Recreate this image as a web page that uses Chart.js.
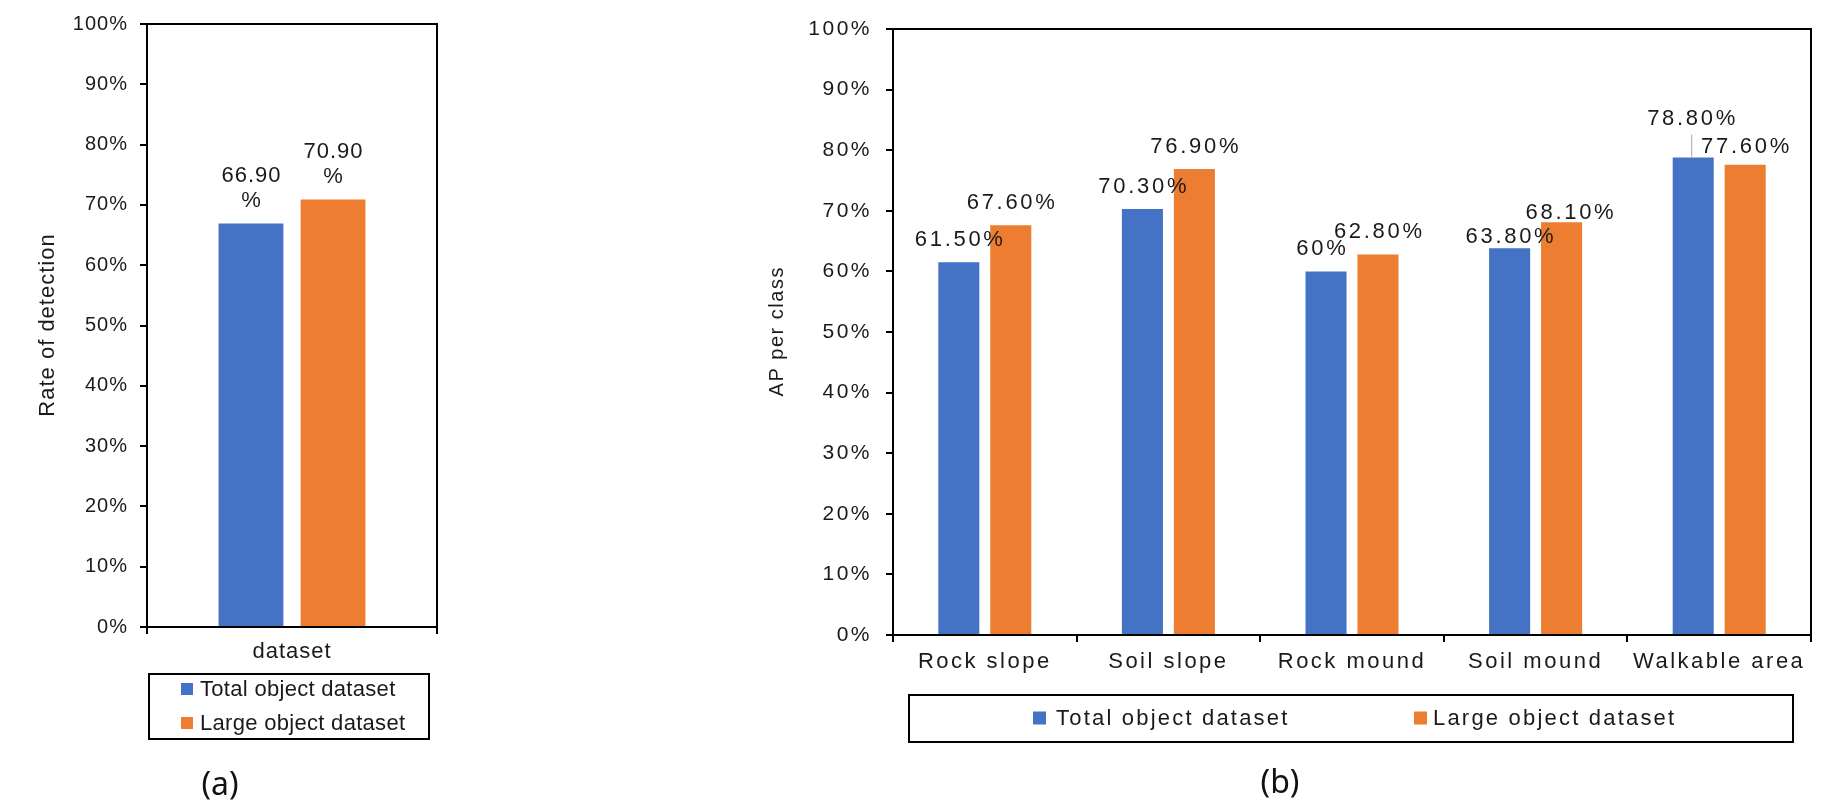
<!DOCTYPE html>
<html>
<head>
<meta charset="utf-8">
<script src="https://cdn.jsdelivr.net/npm/chart.js@4.4.1/dist/chart.umd.min.js"></script>
<style>
  html, body { margin: 0; padding: 0; background: #fff; }
  body { width: 1842px; height: 806px; position: relative; overflow: hidden; }
  canvas { position: absolute; top: 0; }
  #chartA { left: 0; }
  #chartB { left: 700px; }
  .cap { position: absolute; font-family: "Noto Sans", sans-serif; font-size: 32px; color: #111;
         transform: translate(-50%, -50%); line-height: 1; }
</style>
</head>
<body>
<canvas id="chartA" width="470" height="806"></canvas>
<canvas id="chartB" width="1142" height="806"></canvas>
<div class="cap" style="left:220px;top:783px">(a)</div>
<div class="cap" style="left:1280px;top:781px">(b)</div>

<script>
// ── data ──────────────────────────────────────────────
const seriesNames = ['Total object dataset', 'Large object dataset'];
const seriesColors = ['#4472C4', '#ED7D31'];

const catsA = ['dataset'];
const totalA = [66.9];
const largeA = [70.9];

const catsB = ['Rock slope', 'Soil slope', 'Rock mound', 'Soil mound', 'Walkable area'];
const totalB = [61.5, 70.3, 60, 63.8, 78.8];
const largeB = [67.6, 76.9, 62.8, 68.1, 77.6];

const yMin = 0, yMax = 100, yStep = 10;

// ── helpers / plugins ─────────────────────────────────
const FONT = "'Liberation Sans', Arial, sans-serif";
const TXT = '#1a1a1a';

const pct = v => (Number.isInteger(v) ? v : v.toFixed(2)) + '%';

// canvas letter spacing (the reference text is wide); reset after each resize
const spacing = {
  id: 'spacing',
  beforeLayout(c, a, o) { c.ctx.letterSpacing = o.px + 'px'; },
  beforeDraw(c, a, o) { c.ctx.letterSpacing = o.px + 'px'; }
};

// closed frame round the plot area
const frame = {
  id: 'frame',
  afterDraw(c) {
    const a = c.chartArea, ctx = c.ctx;
    ctx.save();
    ctx.strokeStyle = '#000'; ctx.lineWidth = 2;
    ctx.strokeRect(a.left, a.top, a.right - a.left, a.bottom - a.top);
    ctx.restore();
  }
};

// rotated y-axis title, own letter spacing
const vTitle = {
  id: 'vTitle',
  afterDraw(c, a, o) {
    const ar = c.chartArea, ctx = c.ctx;
    ctx.save();
    ctx.translate(o.x, (ar.top + ar.bottom) / 2);
    ctx.rotate(-Math.PI / 2);
    ctx.font = o.size + 'px ' + FONT;
    ctx.letterSpacing = o.px + 'px';
    ctx.textAlign = 'center';
    ctx.textBaseline = 'middle';
    ctx.fillStyle = TXT;
    ctx.fillText(o.text, o.px / 2, 0);
    ctx.restore();
  }
};

// value labels above each bar
const barLabels = {
  id: 'barLabels',
  afterDatasetsDraw(c, a, o) {
    const ctx = c.ctx;
    ctx.save();
    ctx.font = o.size + 'px ' + FONT;
    ctx.fillStyle = TXT;
    ctx.textAlign = 'center';
    ctx.textBaseline = 'middle';
    ctx.letterSpacing = o.px + 'px';
    c.data.datasets.forEach((ds, di) => {
      c.getDatasetMeta(di).data.forEach((bar, i) => {
        const n = (o.nudge && o.nudge[di][i]) || [0, 0];
        const x = bar.x + n[0] + o.px / 2;
        const y = bar.y - o.gap + n[1];
        const txt = pct(ds.data[i]);
        const lines = o.wrap ? [txt.slice(0, -1), '%'] : [txt];
        lines.forEach((t, k) => ctx.fillText(t, x, y - (lines.length - 1 - k) * o.lineH));
        if (n[1] < -10) {
          ctx.strokeStyle = '#a6a6a6'; ctx.lineWidth = 1;
          ctx.beginPath();
          ctx.moveTo(bar.x - 1.5, y + 16);
          ctx.lineTo(bar.x - 1.5, bar.y);
          ctx.stroke();
        }
      });
    });
    ctx.restore();
  }
};

// boxed legend like the Excel one
const boxLegend = {
  id: 'boxLegend',
  afterDraw(c, a, o) {
    const ctx = c.ctx, b = o.box;
    ctx.save();
    ctx.strokeStyle = '#000'; ctx.lineWidth = 2;
    ctx.strokeRect(b[0], b[1], b[2], b[3]);
    ctx.font = o.size + 'px ' + FONT;
    ctx.textAlign = 'left';
    ctx.textBaseline = 'middle';
    ctx.letterSpacing = o.px + 'px';
    c.data.datasets.forEach((ds, i) => {
      const it = o.items[i];
      ctx.fillStyle = ds.backgroundColor;
      ctx.fillRect(it[0], it[2] - o.mark / 2, o.mark, o.mark);
      ctx.fillStyle = TXT;
      ctx.fillText(ds.label, it[1], it[2] + 1);
    });
    ctx.restore();
  }
};

function makeChart(id, cats, s1, s2, cfg) {
  return new Chart(document.getElementById(id), {
    type: 'bar',
    data: {
      labels: cats,
      datasets: [
        { label: seriesNames[0], data: s1, backgroundColor: seriesColors[0] },
        { label: seriesNames[1], data: s2, backgroundColor: seriesColors[1] }
      ]
    },
    plugins: [spacing, frame, vTitle, barLabels, boxLegend],
    options: {
      responsive: false,
      animation: false,
      datasets: { bar: { categoryPercentage: 0.566, barPercentage: 0.79 } },
      layout: { padding: cfg.pad },
      plugins: {
        legend: { display: false },
        tooltip: { enabled: false },
        spacing: { px: cfg.ls },
        vTitle: cfg.title,
        barLabels: cfg.labels,
        boxLegend: cfg.legend
      },
      scales: {
        x: {
          grid: { drawOnChartArea: false, tickLength: 7, color: '#000', lineWidth: 2 },
          border: { color: '#000', width: 2 },
          ticks: { color: TXT, font: { family: FONT, size: cfg.xSize }, padding: cfg.xPad, maxRotation: 0 },
          afterFit(s) { s.height = cfg.xH; }
        },
        y: {
          min: yMin, max: yMax,
          grid: { drawOnChartArea: false, tickLength: 7, color: '#000', lineWidth: 2 },
          border: { color: '#000', width: 2 },
          ticks: { stepSize: yStep, color: TXT, font: { family: FONT, size: cfg.ySize }, padding: cfg.yPad,
                   callback: v => v + '%' },
          afterFit(s) { s.width = cfg.yW; }
        }
      }
    }
  });
}

makeChart('chartA', catsA, totalA, largeA, {
  pad: { left: 0, right: 33, top: 19, bottom: 139 },
  ls: 1, xSize: 22, xPad: 5, xH: 40, ySize: 20, yPad: 12, yW: 147,
  title: { text: 'Rate of detection', x: 48, size: 22, px: 1 },
  labels: { size: 22, px: 1, gap: 23, lineH: 25, wrap: true },
  legend: { box: [149, 674, 280, 65], size: 22, px: 0.3, mark: 12,
            items: [[181, 200, 689], [181, 200, 723]] }
});

makeChart('chartB', catsB, totalB, largeB, {
  pad: { left: 0, right: 31, top: 29, bottom: 126 },
  ls: 2.5, xSize: 22, xPad: 7, xH: 45, ySize: 21, yPad: 14, yW: 193,
  title: { text: 'AP per class', x: 77, size: 20, px: 1.5 },
  labels: { size: 22, px: 2.7, gap: 22, lineH: 25, wrap: false,
            nudge: [[[0, 0], [0, 0], [-5, 0], [0, 11], [-2, -17]],
                    [[0, 0], [0, 0], [0, 0], [8, 13], [0, 4]]] },
  legend: { box: [209, 695, 884, 47], size: 22, px: 2.2, mark: 13,
            items: [[333, 356, 718], [714, 733, 718]] }
});
</script>
</body>
</html>
